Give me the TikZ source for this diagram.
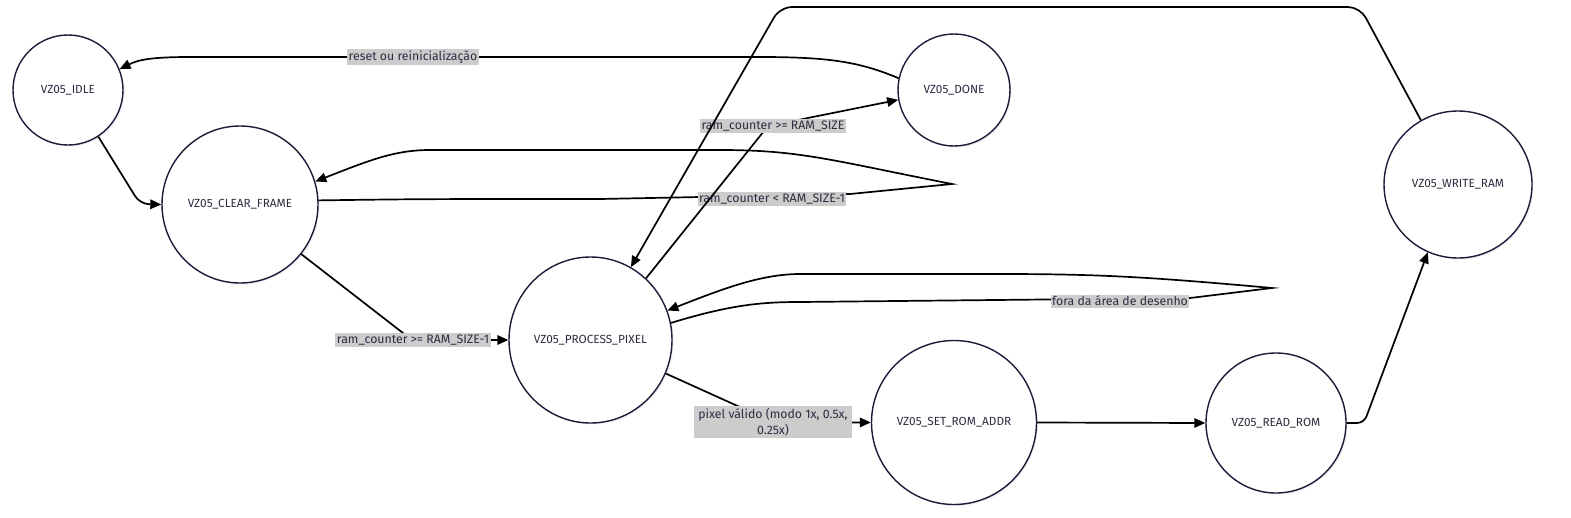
\documentclass[tikz,border=0pt]{standalone}
\usepackage{fontspec}
\setmainfont{Fira Sans}
\usetikzlibrary{arrows.meta,shapes.geometric,shadows}
\definecolor{nodeline}{RGB}{28,28,58}
\definecolor{lblfill}{RGB}{204,204,204}
\definecolor{txt}{RGB}{45,45,65}
\begin{document}
\begin{tikzpicture}[x=1pt,y=-1pt,
  state/.style={ellipse, draw=nodeline, line width=1.4pt, fill=white, inner sep=0pt,
    font=\fontsize{11.8}{13}\selectfont, text=txt,
    drop shadow={shadow xshift=1.5pt, shadow yshift=-1.5pt, opacity=0.12}},
  edge/.style={draw=black, line width=1.7pt, -{Triangle[length=11pt,width=9.5pt]}},
  lbl/.style={fill=lblfill, inner sep=1.5pt, font=\fontsize{12.3}{16.5}\selectfont, text=txt, align=center}
]
\useasboundingbox (0,0) rectangle (1571,517);

\node[state, minimum width=110pt, minimum height=110pt] (idle) at (68,90) {VZ05\_IDLE};
\node[state, minimum width=156pt, minimum height=157pt] (clear) at (240,204.5) {VZ05\_CLEAR\_FRAME};
\node[state, minimum width=112pt, minimum height=112pt] (done) at (954,90) {VZ05\_DONE};
\node[state, minimum width=148pt, minimum height=147pt] (write) at (1458,184.5) {VZ05\_WRITE\_RAM};
\node[state, minimum width=163pt, minimum height=166pt] (proc) at (590.5,340) {VZ05\_PROCESS\_PIXEL};
\node[state, minimum width=165pt, minimum height=164pt] (set) at (954,422.5) {VZ05\_SET\_ROM\_ADDR};
\node[state, minimum width=140pt, minimum height=140pt] (read) at (1276,423) {VZ05\_READ\_ROM};

% DONE -> IDLE
\draw[edge] (done.168) .. controls (860,62) and (830,57) .. (760,57) -- (190,57)
  .. controls (150,57) and (138,60) .. (idle.22);
\node[lbl] (l1) at (413,57) {reset ou reinicialização};

% IDLE -> CLEAR
\draw[edge, rounded corners=9pt] (idle.-57) -- (140,204) -- (clear.west);

% CLEAR self loop
\draw[edge] (clear.3) .. controls (420,199) .. (600,199) -- (850,194) -- (952,184)
  .. controls (830,160) and (800,150) .. (720,150) -- (430,150)
  .. controls (395,150) and (370,160) .. (clear.17);
\node[lbl] (l2) at (772,199) {ram\_counter < RAM\_SIZE-1};

% CLEAR -> PROC
\draw[edge, rounded corners=6pt] (clear.-39) -- (412,340) -- (proc.west);
\node[lbl] (l3) at (413,340) {ram\_counter >= RAM\_SIZE-1};

% PROC -> DONE
\draw[edge] (proc.48) -- (768,126) -- (done.190);
\node[lbl] (l4) at (773,126) {ram\_counter >= RAM\_SIZE};

% WRITE -> PROC
\draw[edge, rounded corners=12pt] (write.120) -- (1360,7) -- (780,7) -- (proc.61);

% PROC self loop
\draw[edge] (proc.12) .. controls (730,305) and (760,302) .. (800,302) -- (1190,298) -- (1272,288)
  .. controls (1150,277) and (1100,274) .. (1000,274) -- (800,274)
  .. controls (760,274) and (720,290) .. (proc.21);
\node[lbl] (l5) at (1120,301) {fora da área de desenho};

% PROC -> SET
\draw[edge] (proc.-24) -- (773,422) -- (set.west);
\node[lbl, inner xsep=4pt] (l6) at (773,422) {pixel válido (modo 1x, 0.5x,\\0.25x)};

% SET -> READ
\draw[edge] (set.east) -- (read.west);

% READ -> WRITE
\draw[edge, rounded corners=7pt] (read.east) -- (1364,423) -- (write.-114);

\end{tikzpicture}
\end{document}
